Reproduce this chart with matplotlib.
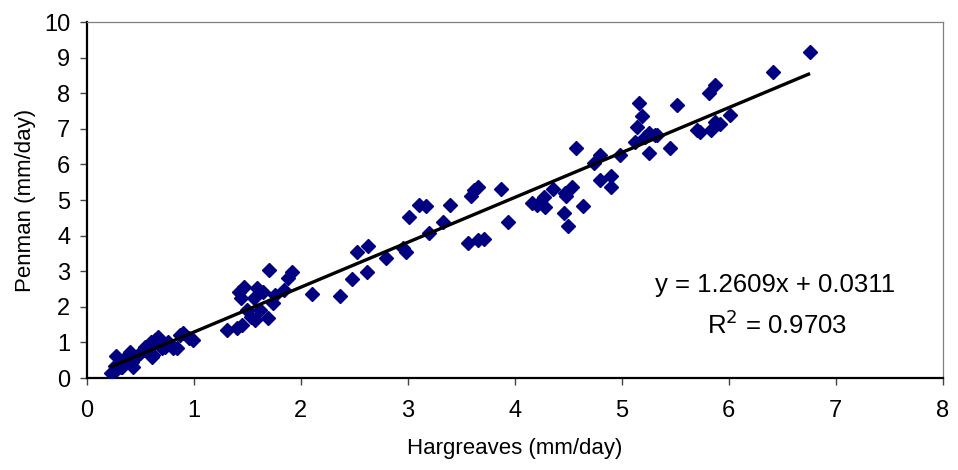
import numpy as np
import matplotlib
matplotlib.use("Agg")
import matplotlib.pyplot as plt

plt.rcParams['font.family'] = ['Liberation Sans', 'DejaVu Sans']

# Daily reference evapotranspiration estimates (mm/day)
hargreaves = [
    0.22, 0.24, 0.26, 0.27, 0.28, 0.30, 0.32, 0.33, 0.35, 0.38, 0.40, 0.42, 0.43,
    0.46, 0.50, 0.53, 0.54, 0.56, 0.58, 0.60, 0.61, 0.62, 0.64, 0.66, 0.70, 0.73,
    0.76, 0.80, 0.84, 0.87, 0.90, 0.95, 0.99,
    1.31, 1.40, 1.45, 1.42, 1.44, 1.47, 1.50, 1.53, 1.56, 1.57, 1.59, 1.62, 1.65,
    1.69, 1.70, 1.74, 1.76, 1.84, 1.88, 1.92,
    2.10, 2.37, 2.48, 2.52, 2.62, 2.63, 2.80, 2.95, 2.98, 3.01, 3.10, 3.17, 3.20,
    3.33, 3.39, 3.56, 3.59, 3.62, 3.66, 3.66, 3.71, 3.87, 3.94,
    4.16, 4.21, 4.27, 4.28, 4.36, 4.46, 4.47, 4.48, 4.50, 4.53, 4.57, 4.64, 4.74,
    4.80, 4.80, 4.90, 4.90,
    4.98, 5.12, 5.14, 5.16, 5.19, 5.22, 5.25, 5.25, 5.31, 5.33, 5.45, 5.52, 5.70,
    5.73, 5.83, 5.82, 5.87, 5.87, 5.92, 6.01, 6.41, 6.76,
]
penman = [
    0.15, 0.17, 0.35, 0.62, 0.25, 0.42, 0.30, 0.31, 0.50, 0.65, 0.73, 0.45, 0.31,
    0.60, 0.70, 0.80, 0.87, 0.79, 0.92, 1.00, 0.59, 0.65, 1.08, 1.15, 0.85, 0.87,
    1.00, 0.84, 0.84, 1.22, 1.26, 1.12, 1.07,
    1.35, 1.40, 1.49, 2.42, 2.25, 2.56, 1.91, 1.71, 2.25, 1.63, 2.53, 1.91, 2.42,
    1.70, 3.04, 2.10, 2.33, 2.47, 2.81, 2.97,
    2.37, 2.30, 2.78, 3.54, 2.98, 3.72, 3.37, 3.66, 3.54, 4.52, 4.86, 4.84, 4.07,
    4.38, 4.86, 3.79, 5.12, 5.28, 5.37, 3.88, 3.90, 5.30, 4.38,
    4.92, 4.86, 5.08, 4.80, 5.30, 4.63, 5.20, 5.12, 4.28, 5.37, 6.46, 4.84, 6.04,
    6.26, 5.56, 5.68, 5.38,
    6.26, 6.63, 7.05, 7.72, 7.36, 6.77, 6.32, 6.88, 6.83, 6.83, 6.46, 7.66, 6.97,
    6.90, 6.97, 8.00, 8.23, 7.19, 7.14, 7.38, 8.60, 9.16,
]

slope = 1.2609
intercept = 0.0311
r_squared = 0.9703

x_ticks = list(range(0, 9))
y_ticks = list(range(0, 11))

fig = plt.figure(figsize=(9.58, 4.70), dpi=100)
ax = fig.add_axes([0.0908, 0.1957, 0.8932, 0.7573])

ax.plot(hargreaves, penman, linestyle='none', marker='D', markersize=7.5,
        color='#000080', markeredgecolor='#000080', zorder=3)

xs = np.array([min(hargreaves), max(hargreaves)])
ax.plot(xs, slope * xs + intercept, color='black', linewidth=2.4, zorder=4,
        solid_capstyle='butt')

ax.set_xlim(0, 8)
ax.set_ylim(0, 10)
ax.set_xticks(x_ticks)
ax.set_yticks(y_ticks)
ax.tick_params(axis='both', direction='out', length=5, width=1, labelsize=17,
               color='#444444')
ax.tick_params(axis='x', pad=11)
ax.tick_params(axis='y', pad=7)

for side in ('left', 'bottom'):
    ax.spines[side].set_color('black')
    ax.spines[side].set_linewidth(1.6)
for side in ('top', 'right'):
    ax.spines[side].set_color('#808080')
    ax.spines[side].set_linewidth(0.9)

ax.set_xlabel('Hargreaves (mm/day)', fontsize=16, labelpad=11)
ax.set_ylabel('Penman (mm/day)', fontsize=16, labelpad=6)

ax.text(6.43, 2.61, f'y = {slope:.4f}x + {intercept:.4f}', fontsize=18.5,
        ha='center', va='center')
ax.text(6.45, 1.49, f'R$^2$ = {r_squared:.4f}', fontsize=18.5,
        ha='center', va='center')

fig.savefig('out.png', dpi=100)
